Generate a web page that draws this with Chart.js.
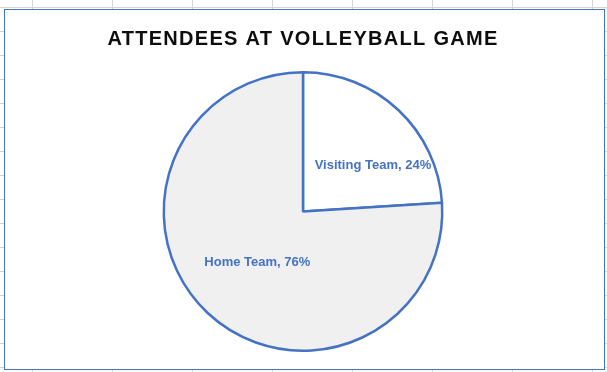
<!DOCTYPE html>
<html>
<head>
<meta charset="utf-8">
<script src="https://cdn.jsdelivr.net/npm/chart.js@4.4.0/dist/chart.umd.min.js"></script>
<style>
    html, body {
        margin: 0;
        padding: 0;
        width: 607px;
        height: 372px;
        overflow: hidden;
        background-color: #fff;
        /* شبكة ورقة العمل خلف المخطط */
        background-image:
            linear-gradient(to right, #d4d4d4 1px, transparent 1px),
            linear-gradient(to bottom, #d4d4d4 1px, transparent 1px);
        background-size: 80px 24px;
        background-position: 32px 7px;
    }
    #chartBox {
        position: absolute;
        left: 4px;
        top: 9px;
        width: 599px;
        height: 359px;
        border: 1px solid #4472C4;
        background: #fff;
    }
    canvas { display: block; }
</style>
</head>
<body>
<div id="chartBox">
    <canvas id="pieChart" width="599" height="359"></canvas>
</div>
<script>
// بيانات المخطط
const categories = ['Visiting Team', 'Home Team'];
const attendees = [24, 76];
const sliceColors = ['#ffffff', '#f0f0f0'];

const chartTitle = 'ATTENDEES AT VOLLEYBALL GAME';

// مسافة بين حروف العنوان
const titleSpacing = {
    id: 'titleSpacing',
    beforeDraw(chart, args, opts) {
        chart.ctx.letterSpacing = opts.spacing;
    },
    beforeDatasetsDraw(chart) {
        chart.ctx.letterSpacing = '0px';
    }
};

// تسميات البيانات داخل الشرائح
const sliceLabels = {
    id: 'sliceLabels',
    afterDatasetsDraw(chart, args, opts) {
        const ctx = chart.ctx;
        const meta = chart.getDatasetMeta(0);
        const total = attendees.reduce((sum, v) => sum + v, 0);

        ctx.save();
        ctx.font = opts.font;
        ctx.fillStyle = opts.color;
        ctx.textAlign = 'center';
        ctx.textBaseline = 'middle';

        meta.data.forEach((arc, i) => {
            const place = opts.placement[i];
            const mid = (arc.startAngle + arc.endAngle) / 2 + place.shift * Math.PI / 180;
            const r = arc.outerRadius * place.frac;
            const x = arc.x + Math.cos(mid) * r;
            const y = arc.y + Math.sin(mid) * r;
            const pct = Math.round(attendees[i] / total * 100);
            ctx.fillText(`${categories[i]}, ${pct}%`, x, y);
        });
        ctx.restore();
    }
};

const ctx = document.getElementById('pieChart');

new Chart(ctx, {
    type: 'pie',
    data: {
        labels: categories,
        datasets: [{
            data: attendees,
            backgroundColor: sliceColors,
            borderColor: '#4472C4',
            borderWidth: 2.5
        }]
    },
    options: {
        responsive: false,
        animation: false,
        layout: {
            padding: { top: 0, bottom: 17, left: 0, right: 3 }
        },
        plugins: {
            legend: { display: false },
            tooltip: { enabled: false },
            title: {
                display: true,
                text: chartTitle,
                color: '#0d0d0d',
                font: { family: 'Liberation Sans', size: 20, weight: 'bold', lineHeight: 1.2 },
                padding: { top: 17, bottom: 20 }
            },
            titleSpacing: { spacing: '1.3px' },
            sliceLabels: {
                font: 'bold 13px "Liberation Sans"',
                color: '#4472C4',
                placement: [
                    { shift: 13.6, frac: 0.6 },
                    { shift: -1.2, frac: 0.49 }
                ]
            }
        }
    },
    plugins: [titleSpacing, sliceLabels]
});
</script>
</body>
</html>
